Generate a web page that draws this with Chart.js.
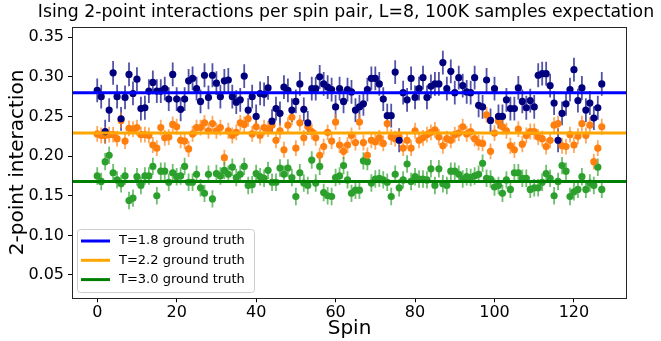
<!DOCTYPE html>
<html>
<head>
<meta charset="utf-8">
<script src="https://cdn.jsdelivr.net/npm/chart.js@4/dist/chart.umd.min.js"></script>
<style>
  html, body { margin: 0; padding: 0; background: #fff; }
  #wrap { width: 661px; height: 341px; }
</style>
</head>
<body>
<div id="wrap"><canvas id="c" width="661" height="341"></canvas></div>
<script>
// Mean 2-point interaction per spin pair, for three temperatures
const t18 = [
  0.283,0.275,0.231,0.258,0.305,0.275,0.247,0.274,0.303,0.279,0.297,0.260,0.261,0.282,0.293,0.282,
  0.282,0.285,0.272,0.303,0.272,0.259,0.272,0.295,0.298,0.285,0.269,0.302,0.274,0.302,0.292,0.275,
  0.295,0.296,0.275,0.268,0.271,0.301,0.258,0.275,0.250,0.279,0.278,0.286,0.244,0.260,0.254,0.287,
  0.283,0.258,0.269,0.291,0.259,0.242,0.285,0.285,0.300,0.291,0.287,0.284,0.262,0.285,0.269,0.284,
  0.281,0.258,0.262,0.266,0.284,0.298,0.298,0.291,0.272,0.251,0.251,0.306,0.220,0.280,0.271,0.298,
  0.274,0.285,0.299,0.274,0.288,0.291,0.291,0.318,0.285,0.307,0.280,0.299,0.289,0.281,0.280,0.299,
  0.264,0.262,0.296,0.245,0.285,0.250,0.250,0.271,0.260,0.260,0.286,0.269,0.261,0.270,0.262,0.302,
  0.304,0.304,0.289,0.267,0.220,0.254,0.266,0.284,0.309,0.270,0.286,0.258,0.267,0.248,0.261,0.291
];
const t22 = [
  0.228,0.226,0.226,0.227,0.227,0.222,0.245,0.219,0.235,0.234,0.236,0.227,0.227,0.226,0.214,0.210,
  0.236,0.223,0.224,0.240,0.237,0.220,0.219,0.209,0.228,0.236,0.236,0.242,0.232,0.241,0.232,0.236,
  0.198,0.232,0.226,0.230,0.242,0.240,0.247,0.228,0.237,0.226,0.236,0.234,0.239,0.220,0.232,0.208,
  0.239,0.249,0.210,0.242,0.223,0.237,0.231,0.223,0.201,0.212,0.230,0.219,0.243,0.214,0.206,0.214,
  0.226,0.217,0.243,0.217,0.201,0.220,0.218,0.223,0.216,0.241,0.224,0.222,0.224,0.210,0.220,0.210,
  0.232,0.220,0.223,0.227,0.230,0.233,0.224,0.213,0.222,0.220,0.227,0.229,0.237,0.228,0.231,0.222,
  0.217,0.216,0.252,0.206,0.229,0.244,0.237,0.232,0.213,0.208,0.234,0.215,0.226,0.231,0.231,0.224,
  0.222,0.212,0.220,0.239,0.241,0.213,0.212,0.227,0.214,0.225,0.241,0.226,0.239,0.193,0.210,0.237
];
const t30 = [
  0.175,0.168,0.193,0.201,0.179,0.170,0.165,0.175,0.144,0.147,0.174,0.163,0.175,0.175,0.187,0.150,
  0.181,0.181,0.167,0.179,0.174,0.175,0.187,0.167,0.167,0.177,0.160,0.153,0.177,0.146,0.178,0.175,
  0.182,0.177,0.186,0.173,0.177,0.187,0.163,0.164,0.178,0.174,0.172,0.182,0.167,0.167,0.185,0.177,
  0.185,0.173,0.149,0.179,0.166,0.163,0.195,0.166,0.187,0.154,0.150,0.149,0.173,0.175,0.188,0.170,
  0.153,0.157,0.157,0.194,0.193,0.166,0.171,0.172,0.170,0.167,0.149,0.177,0.160,0.170,0.190,0.168,
  0.174,0.171,0.171,0.170,0.184,0.163,0.184,0.165,0.163,0.181,0.181,0.177,0.171,0.174,0.173,0.175,
  0.177,0.191,0.172,0.171,0.161,0.163,0.153,0.170,0.158,0.179,0.179,0.172,0.172,0.158,0.160,0.160,
  0.167,0.178,0.172,0.150,0.168,0.188,0.181,0.149,0.155,0.158,0.174,0.158,0.166,0.163,0.186,0.158
];
// Standard error of each estimate
const err18 = 0.015;
const err22 = 0.010;
const err30 = 0.011;
// Exact values
const truth = [0.280, 0.229, 0.168];
const truthLabels = ['T=1.8 ground truth', 'T=2.2 ground truth', 'T=3.0 ground truth'];

const spins = t18.map((_, i) => i);
const xTicks = [0, 20, 40, 60, 80, 100, 120];
const yTicks = [0.05, 0.10, 0.15, 0.20, 0.25, 0.30, 0.35];
const X_MIN = -6.35, X_MAX = 133.35;
const Y_MIN = 0.0206, Y_MAX = 0.3635;
const TITLE = 'Ising 2-point interactions per spin pair, L=8, 100K samples expectation';

const FONT = "'DejaVu Sans', 'Liberation Sans', sans-serif";
const toPoints = vals => vals.map((v, i) => ({ x: spins[i], y: v }));
const hline = v => [{ x: X_MIN, y: v }, { x: X_MAX, y: v }];

// Vertical error bars under the markers
const errorBars = {
  id: 'errorBars',
  beforeDatasetsDraw(chart) {
    const { ctx, scales: { y } } = chart;
    chart.data.datasets.forEach((ds, di) => {
      if (ds.err === undefined) return;
      const meta = chart.getDatasetMeta(di);
      ctx.save();
      ctx.strokeStyle = ds.errColor;
      ctx.lineWidth = 1.8;
      ctx.beginPath();
      meta.data.forEach((pt, i) => {
        const v = ds.data[i].y;
        ctx.moveTo(pt.x, y.getPixelForValue(v - ds.err));
        ctx.lineTo(pt.x, y.getPixelForValue(v + ds.err));
      });
      ctx.stroke();
      ctx.restore();
    });
  }
};

// Title, axes frame and the legend box in the lower left corner
const frameAndLegend = {
  id: 'frameAndLegend',
  afterDraw(chart) {
    const { ctx, chartArea: a } = chart;
    ctx.save();
    ctx.fillStyle = '#000';
    ctx.font = '17.3px ' + FONT;
    ctx.textAlign = 'center';
    ctx.textBaseline = 'middle';
    ctx.fillText(TITLE, 346, 13);

    ctx.strokeStyle = '#262626';
    ctx.lineWidth = 1;
    ctx.strokeRect(Math.round(a.left) + 0.5, Math.round(a.top) + 0.5,
                   Math.round(a.right - a.left) - 1, Math.round(a.bottom - a.top) - 1);

    const bx = a.left + 5, by = 229, bw = 177, bh = 63;
    ctx.beginPath();
    ctx.roundRect(bx + 0.5, by + 0.5, bw, bh, 3);
    ctx.fillStyle = 'rgba(255,255,255,0.8)';
    ctx.fill();
    ctx.strokeStyle = '#cccccc';
    ctx.stroke();

    const lines = chart.data.datasets.filter(d => d.type === 'line');
    ctx.font = '13px ' + FONT;
    ctx.textBaseline = 'middle';
    ctx.textAlign = 'left';
    lines.forEach((d, i) => {
      const ry = by + 12 + i * 19.3;
      ctx.strokeStyle = d.borderColor;
      ctx.lineWidth = 3;
      ctx.beginPath();
      ctx.moveTo(bx + 4, ry);
      ctx.lineTo(bx + 33, ry);
      ctx.stroke();
      ctx.fillStyle = '#000';
      ctx.fillText(d.label, bx + 42, ry);
    });
    ctx.restore();
  }
};

const scatterSet = (label, vals, color, barColor, err) => ({
  type: 'scatter', label, data: toPoints(vals),
  backgroundColor: color, borderColor: color,
  pointRadius: 3.6, pointBorderWidth: 0, pointHoverRadius: 3.6,
  err, errColor: barColor, order: 2
});
const lineSet = (label, v, color) => ({
  type: 'line', label, data: hline(v),
  borderColor: color, backgroundColor: color, borderWidth: 3,
  pointRadius: 0, fill: false, order: 0
});

new Chart(document.getElementById('c'), {
  data: {
    datasets: [
      scatterSet('T=1.8', t18, '#00007f', 'rgba(0,0,127,0.68)', err18),
      scatterSet('T=2.2', t22, '#ff7f0e', 'rgba(255,127,14,0.68)', err22),
      scatterSet('T=3.0', t30, '#2ca02c', 'rgba(44,160,44,0.68)', err30),
      lineSet(truthLabels[0], truth[0], '#0000ff'),
      lineSet(truthLabels[1], truth[1], '#ffa500'),
      lineSet(truthLabels[2], truth[2], '#008000')
    ]
  },
  options: {
    responsive: false,
    animation: false,
    events: [],
    layout: { padding: { left: 0, right: 34, top: 26.5, bottom: 0 } },
    plugins: {
      legend: { display: false },
      tooltip: { enabled: false },
      title: { display: false }
    },
    scales: {
      x: {
        type: 'linear', min: X_MIN, max: X_MAX,
        afterBuildTicks: s => { s.ticks = xTicks.map(v => ({ value: v })); },
        afterFit: s => { s.height = 42.7; },
        grid: { drawOnChartArea: false, drawTicks: true, tickLength: 4, color: '#000', lineWidth: 1 },
        border: { display: false },
        ticks: { color: '#000', font: { family: FONT, size: 16 }, padding: 1, maxRotation: 0,
                 callback: v => String(v) },
        title: { display: true, text: 'Spin', color: '#000',
                 font: { family: FONT, size: 20, lineHeight: 1.2 }, padding: { top: 0, bottom: 0 } }
      },
      y: {
        type: 'linear', min: Y_MIN, max: Y_MAX,
        afterBuildTicks: s => { s.ticks = yTicks.map(v => ({ value: v })); },
        afterFit: s => { s.width = 72; },
        grid: { drawOnChartArea: false, drawTicks: true, tickLength: 4, color: '#000', lineWidth: 1 },
        border: { display: false },
        ticks: { color: '#000', font: { family: FONT, size: 16 }, padding: 4,
                 callback: v => Number(v).toFixed(2) },
        title: { display: true, text: '2-point interaction', color: '#000',
                 font: { family: FONT, size: 20, lineHeight: 1.2 }, padding: { top: 6, bottom: 0 } }
      }
    }
  },
  plugins: [errorBars, frameAndLegend]
});
</script>
</body>
</html>
